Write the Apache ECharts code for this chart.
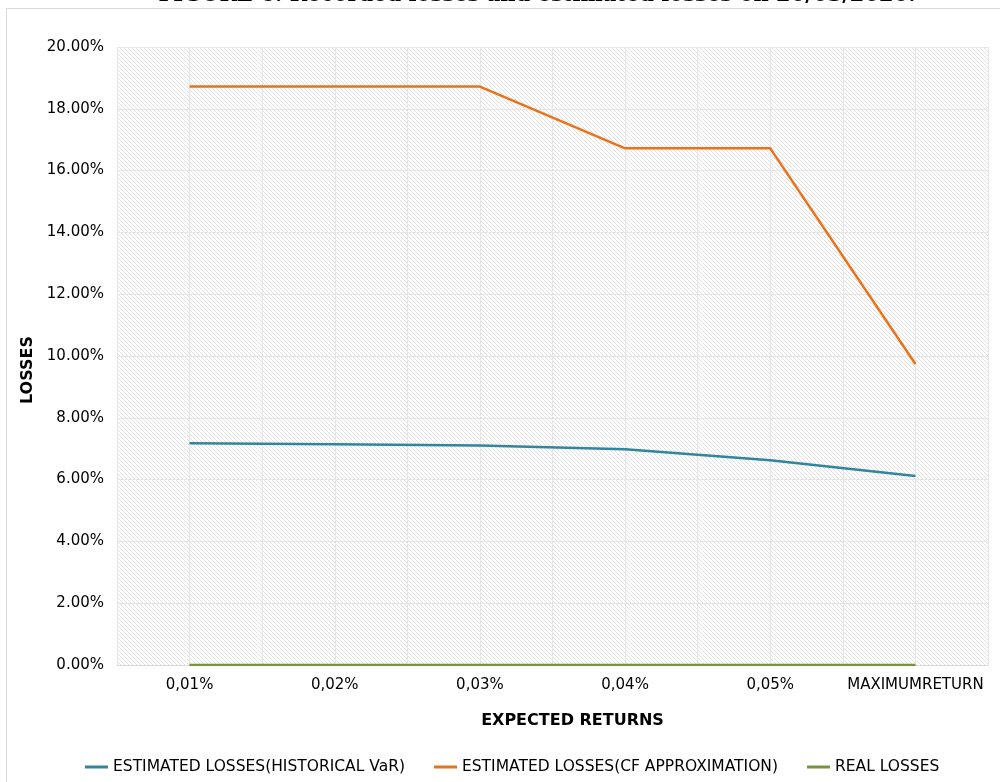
<!DOCTYPE html>
<html><head><meta charset="utf-8">
<script src="https://cdn.jsdelivr.net/npm/echarts@6/dist/echarts.min.js"></script>
<style>html,body{margin:0;padding:0;background:#fff}#c{width:1000px;height:782px}</style>
</head><body><div id="c"></div>
<script>
const categories = ['0,01%','0,02%','0,03%','0,04%','0,05%','MAXIMUMRETURN'];
const histVaR = [7.18, 7.14, 7.10, 6.98, 6.63, 6.12];
const cfApprox = [18.72, 18.72, 18.72, 16.72, 16.72, 9.74];
const realLosses = [0, 0, 0, 0, 0, 0];
const yTicks = {min: 0, max: 20, interval: 2};

const pc = document.createElement('canvas');
pc.width = 4; pc.height = 4;
const pctx = pc.getContext('2d');
pctx.fillStyle = '#ffffff'; pctx.fillRect(0,0,4,4);
pctx.fillStyle = '#e0e0e0';
for (let i = 0; i < 4; i++) { pctx.fillRect(i, i, 1, 1); }

const font = 'DejaVu Sans';
const chart = echarts.init(document.getElementById('c'));
chart.setOption({
  animation: false,
  backgroundColor: '#fff',
  textStyle: {fontFamily: font},
  graphic: [
    {type: 'rect', shape: {x: 6.5, y: 8.5, width: 1010, height: 800}, style: {fill: 'none', stroke: '#d9d9d9', lineWidth: 1}, silent: true},
    {type: 'text', x: 537, y: -15, style: {text: 'FIGURE 6: Recorded losses and estimated losses on 20/03/2020.', fill: '#000', font: 'bold 21px "DejaVu Serif"', align: 'center', verticalAlign: 'top'}}
  ],
  grid: {left: 117, right: 12, top: 47, bottom: 117, show: true, backgroundColor: {image: pc, repeat: 'repeat'}, borderWidth: 0},
  legend: {
    bottom: 2, left: 80, itemWidth: 23, itemHeight: 3, itemGap: 29,
    icon: 'rect',
    textStyle: {fontFamily: font, fontSize: 15.5, color: '#000'},
    data: ['ESTIMATED LOSSES(HISTORICAL VaR)', 'ESTIMATED LOSSES(CF APPROXIMATION)', 'REAL LOSSES']
  },
  xAxis: [
    {
      type: 'category', data: categories, boundaryGap: true,
      name: 'EXPECTED RETURNS', nameLocation: 'middle', nameGap: 48,
      nameTextStyle: {fontFamily: font, fontWeight: 'bold', fontSize: 16, color: '#000', padding: [0, 0, 0, 40]},
      axisLine: {show: true, lineStyle: {color: '#d9d9d9'}},
      axisTick: {show: false},
      axisLabel: {fontFamily: font, fontSize: 15, color: '#000', margin: 13, interval: 0},
      splitLine: {show: false}
    },
    {
      type: 'value', min: 0, max: 12, interval: 1, position: 'bottom',
      axisLine: {show: false}, axisTick: {show: false}, axisLabel: {show: false},
      splitLine: {show: true, lineStyle: {color: '#e6e6e6', width: 1}}
    }
  ],
  yAxis: {
    type: 'value', min: yTicks.min, max: yTicks.max, interval: yTicks.interval,
    name: 'LOSSES', nameLocation: 'middle', nameGap: 80, nameRotate: 90,
    nameTextStyle: {fontFamily: font, fontWeight: 'bold', fontSize: 16, color: '#000', padding: [0, 0, 0, -28]},
    axisLine: {show: false}, axisTick: {show: false},
    axisLabel: {fontFamily: font, fontSize: 15, color: '#000', margin: 13, formatter: v => v.toFixed(2) + '%'},
    splitLine: {show: true, lineStyle: {color: '#e6e6e6', width: 1}}
  },
  series: [
    {name: 'ESTIMATED LOSSES(HISTORICAL VaR)', type: 'line', data: histVaR, symbol: 'none', color: '#31859C', lineStyle: {width: 2.5, color: '#31859C'}},
    {name: 'ESTIMATED LOSSES(CF APPROXIMATION)', type: 'line', data: cfApprox, symbol: 'none', color: '#E8731A', lineStyle: {width: 2.5, color: '#E8731A'}},
    {name: 'REAL LOSSES', type: 'line', data: realLosses, symbol: 'none', color: '#77933C', lineStyle: {width: 2.5, color: '#77933C'}, z: 3}
  ]
});
</script></body></html>
